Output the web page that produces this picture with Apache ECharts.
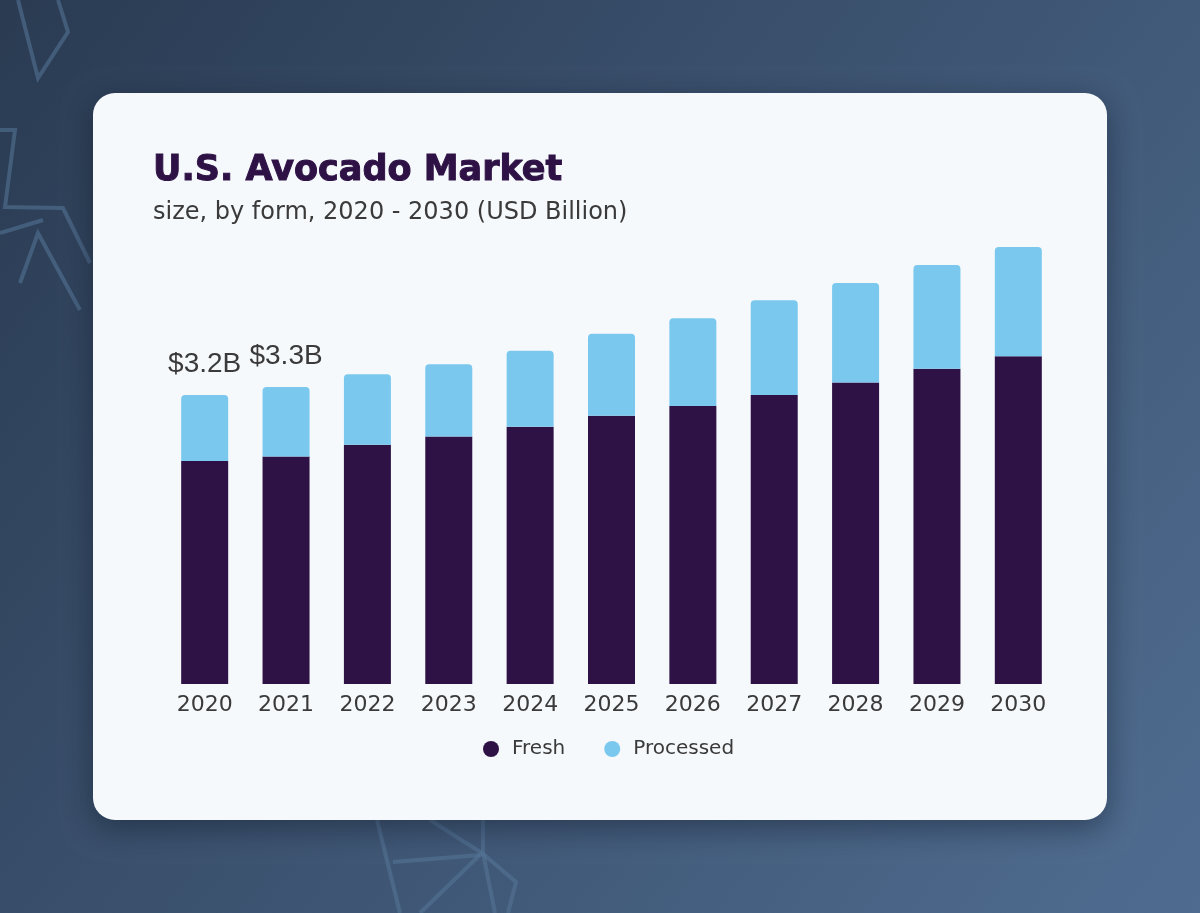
<!DOCTYPE html>
<html>
<head>
<meta charset="utf-8">
<script src="https://cdn.jsdelivr.net/npm/echarts@6/dist/echarts.min.js"></script>
<style>
  html, body { margin: 0; padding: 0; }
  #chart { width: 1200px; height: 913px; }
</style>
</head>
<body>
<div id="chart"></div>
<script>
// data (USD Billion)
var years = ["2020", "2021", "2022", "2023", "2024", "2025", "2026", "2027", "2028", "2029", "2030"];
var fresh = [2.47, 2.52, 2.65, 2.74, 2.85, 2.97, 3.08, 3.20, 3.34, 3.49, 3.63];
var processed = [0.73, 0.77, 0.78, 0.80, 0.84, 0.91, 0.97, 1.05, 1.10, 1.15, 1.21];
var totalLabels = ["$3.2B", "$3.3B"];

var myChart = echarts.init(document.getElementById("chart"));

let textColor = "#3a3a3a";
let lineColor = "rgba(86,118,153,0.55)";

// decorative outlines in the backdrop
let deco = [
  [[18, 0], [38, 78], [68, 32], [58, 0]],
  [[0, 130], [15, 130], [5, 207], [63, 208], [90, 263]],
  [[0, 233], [43, 220]],
  [[20, 283], [38, 233], [80, 310]],
  [[377, 820], [400, 913]],
  [[393, 862], [480, 855]],
  [[430, 820], [482, 853], [516, 882], [508, 913]],
  [[482, 853], [420, 913]],
  [[483, 820], [483, 853], [495, 913]]
];

let graphics = [
  {
    type: "rect",
    z: -10,
    shape: { x: 0, y: 0, width: 1200, height: 913 },
    style: {
      fill: new echarts.graphic.LinearGradient(0, 0, 1, 1, [
        { offset: 0, color: "#2a3b52" },
        { offset: 1, color: "#4f6c90" },
      ]),
    },
  },
];
deco.forEach(function (pts) {
  graphics.push({
    type: "polyline",
    z: -9,
    shape: { points: pts },
    style: { stroke: lineColor, lineWidth: 4, fill: null },
  });
});
graphics.push({
  type: "rect",
  z: -8,
  shape: { x: 93, y: 93, width: 1014, height: 727, r: 22 },
  style: {
    fill: "#f5f9fc",
    shadowBlur: 30,
    shadowOffsetY: 8,
    shadowColor: "rgba(10,20,35,0.45)",
  },
});

var processedData = processed.map(function (v, i) {
  if (i < totalLabels.length) {
    return {
      value: v,
      label: {
        show: true,
        position: "top",
        distance: 17,
        formatter: totalLabels[i],
        fontSize: 28,
        color: textColor,
        fontFamily: "Liberation Sans",
      },
    };
  }
  return v;
});

var option = {
  animation: false,
  graphic: graphics,
  title: [
    {
      text: "U.S. Avocado Market",
      left: 148,
      top: 148,
      textStyle: {
        fontFamily: "DejaVu Sans",
        fontWeight: "bold",
        fontSize: 35,
        color: "#2e1245",
        textBorderColor: "#2e1245",
        textBorderWidth: 1,
      },
    },
    {
      text: "size, by form, 2020 - 2030 (USD Billion)",
      left: 148,
      top: 196,
      textStyle: {
        fontFamily: "DejaVu Sans",
        fontWeight: "normal",
        fontSize: 24,
        color: textColor,
      },
    },
  ],
  legend: {
    left: 478,
    top: 734,
    icon: "circle",
    itemWidth: 16,
    itemHeight: 16,
    itemGap: 39,
    textStyle: {
      fontFamily: "DejaVu Sans",
      fontSize: 20,
      color: textColor,
      padding: [0, 0, 0, 8],
    },
    data: ["Fresh", "Processed"],
  },
  grid: {
    left: 164,
    right: 141,
    top: 232.5,
    bottom: 229,
    containLabel: false,
  },
  xAxis: {
    type: "category",
    data: years,
    axisLine: { show: false },
    axisTick: { show: false },
    axisLabel: {
      margin: 10,
      fontFamily: "DejaVu Sans",
      fontSize: 22,
      color: textColor,
    },
  },
  yAxis: {
    type: "value",
    min: 0,
    max: 5,
    show: false,
    splitLine: { show: false },
  },
  series: [
    {
      name: "Fresh",
      type: "bar",
      stack: "total",
      barWidth: 47,
      itemStyle: { color: "#2e1245" },
      data: fresh,
    },
    {
      name: "Processed",
      type: "bar",
      stack: "total",
      barWidth: 47,
      itemStyle: { color: "#7bc8ef", borderRadius: [4, 4, 0, 0] },
      data: processedData,
    },
  ],
};

myChart.setOption(option);
window.addEventListener("resize", function () {
  myChart.resize();
});
</script>
</body>
</html>
